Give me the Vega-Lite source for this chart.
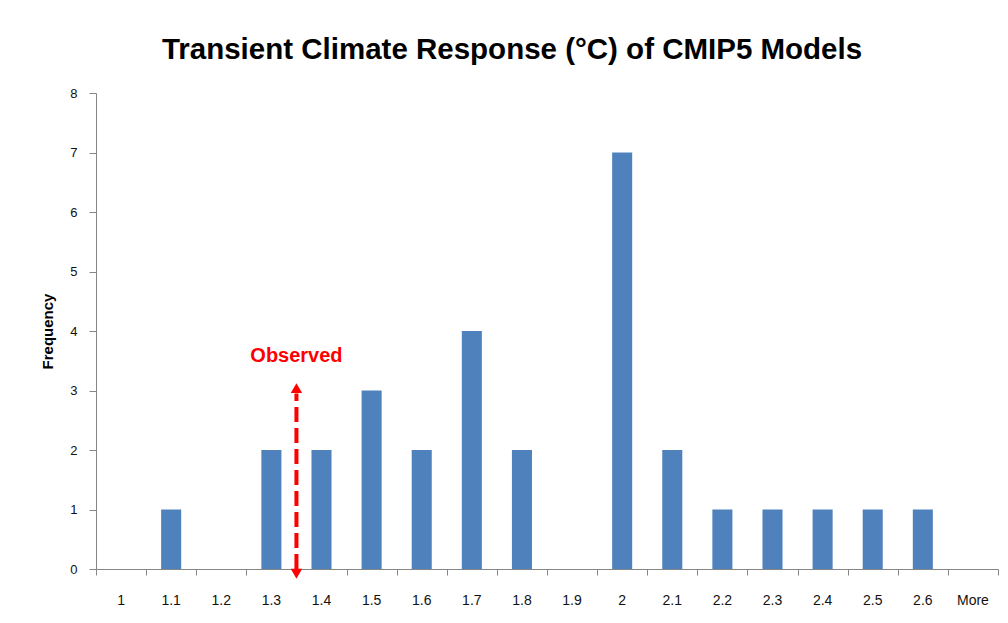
{
  "$schema": "https://vega.github.io/schema/vega-lite/v6.json",
  "width": 902,
  "height": 476,
  "autosize": "none",
  "padding": {"left": 96, "top": 93, "right": 10, "bottom": 54},
  "background": "white",
  "config": {
    "view": {"stroke": null},
    "font": "Liberation Sans",
    "axis": {
      "domainColor": "#868686",
      "tickColor": "#868686",
      "labelColor": "#111111",
      "labelFont": "Liberation Sans",
      "grid": false
    }
  },
  "title": {
    "text": "Transient Climate Response (°C) of CMIP5 Models",
    "font": "Liberation Sans",
    "fontSize": 29.5,
    "fontWeight": "bold",
    "color": "#000000",
    "anchor": "middle",
    "dx": -35,
    "offset": 22
  },
  "layer": [
    {
      "data": {
        "values": [
          {"bin": "1", "freq": 0},
          {"bin": "1.1", "freq": 1},
          {"bin": "1.2", "freq": 0},
          {"bin": "1.3", "freq": 2},
          {"bin": "1.4", "freq": 2},
          {"bin": "1.5", "freq": 3},
          {"bin": "1.6", "freq": 2},
          {"bin": "1.7", "freq": 4},
          {"bin": "1.8", "freq": 2},
          {"bin": "1.9", "freq": 0},
          {"bin": "2", "freq": 7},
          {"bin": "2.1", "freq": 2},
          {"bin": "2.2", "freq": 1},
          {"bin": "2.3", "freq": 1},
          {"bin": "2.4", "freq": 1},
          {"bin": "2.5", "freq": 1},
          {"bin": "2.6", "freq": 1},
          {"bin": "More", "freq": 0}
        ]
      },
      "mark": {"type": "bar", "color": "#4F81BD"},
      "encoding": {
        "x": {
          "field": "bin",
          "type": "nominal",
          "sort": null,
          "scale": {"paddingInner": 0.6, "paddingOuter": 0.3},
          "axis": {
            "title": null,
            "labelAngle": 0,
            "ticks": false,
            "labelPadding": 24,
            "labelFontSize": 14
          }
        },
        "y": {
          "field": "freq",
          "type": "quantitative",
          "scale": {"domain": [0, 8]},
          "axis": {
            "title": "Frequency",
            "titleFont": "Liberation Sans",
            "titleFontSize": 15,
            "titleFontWeight": "bold",
            "titleColor": "#000000",
            "titlePadding": 14,
            "values": [0, 1, 2, 3, 4, 5, 6, 7, 8],
            "tickSize": 7,
            "labelPadding": 12,
            "labelFontSize": 13,
            "format": "d"
          }
        }
      }
    },
    {
      "layer": [
        {
          "data": {"values": [{"x": 1.35, "y0": 0, "y1": 2.95}]},
          "mark": {"type": "rule", "color": "#FF0000", "strokeWidth": 4, "strokeDash": [15, 6]},
          "encoding": {
            "x": {
              "field": "x",
              "type": "quantitative",
              "scale": {"domain": [0.95, 2.75], "nice": false, "zero": false},
              "axis": {
                "orient": "bottom",
                "title": null,
                "labels": false,
                "domain": false,
                "grid": false,
                "tickSize": 6,
                "values": [0.95, 1.05, 1.15, 1.25, 1.35, 1.45, 1.55, 1.65, 1.75, 1.85, 1.95, 2.05, 2.15, 2.25, 2.35, 2.45, 2.55, 2.65, 2.75]
              }
            },
            "y": {"field": "y0", "type": "quantitative", "title": "Frequency"},
            "y2": {"field": "y1"}
          }
        },
        {
          "data": {"values": [{"x": 1.35, "y": 3.04, "dir": "up"}, {"x": 1.35, "y": -0.08, "dir": "down"}]},
          "mark": {"type": "point", "filled": true, "color": "#FF0000", "opacity": 1, "size": 130},
          "encoding": {
            "x": {"field": "x", "type": "quantitative", "scale": {"domain": [0.95, 2.75], "nice": false, "zero": false}},
            "y": {"field": "y", "type": "quantitative", "title": "Frequency"},
            "shape": {"field": "dir", "type": "nominal", "scale": {"domain": ["up", "down"], "range": ["triangle-up", "triangle-down"]}, "legend": null}
          }
        },
        {
          "data": {"values": [{"x": 1.35, "y": 3.58, "label": "Observed"}]},
          "mark": {"type": "text", "color": "#FF0000", "font": "Liberation Sans", "fontSize": 20, "fontWeight": "bold", "align": "center", "baseline": "middle"},
          "encoding": {
            "x": {"field": "x", "type": "quantitative", "scale": {"domain": [0.95, 2.75], "nice": false, "zero": false}},
            "y": {"field": "y", "type": "quantitative", "title": "Frequency"},
            "text": {"field": "label"}
          }
        }
      ]
    }
  ],
  "resolve": {"scale": {"x": "independent"}}
}
